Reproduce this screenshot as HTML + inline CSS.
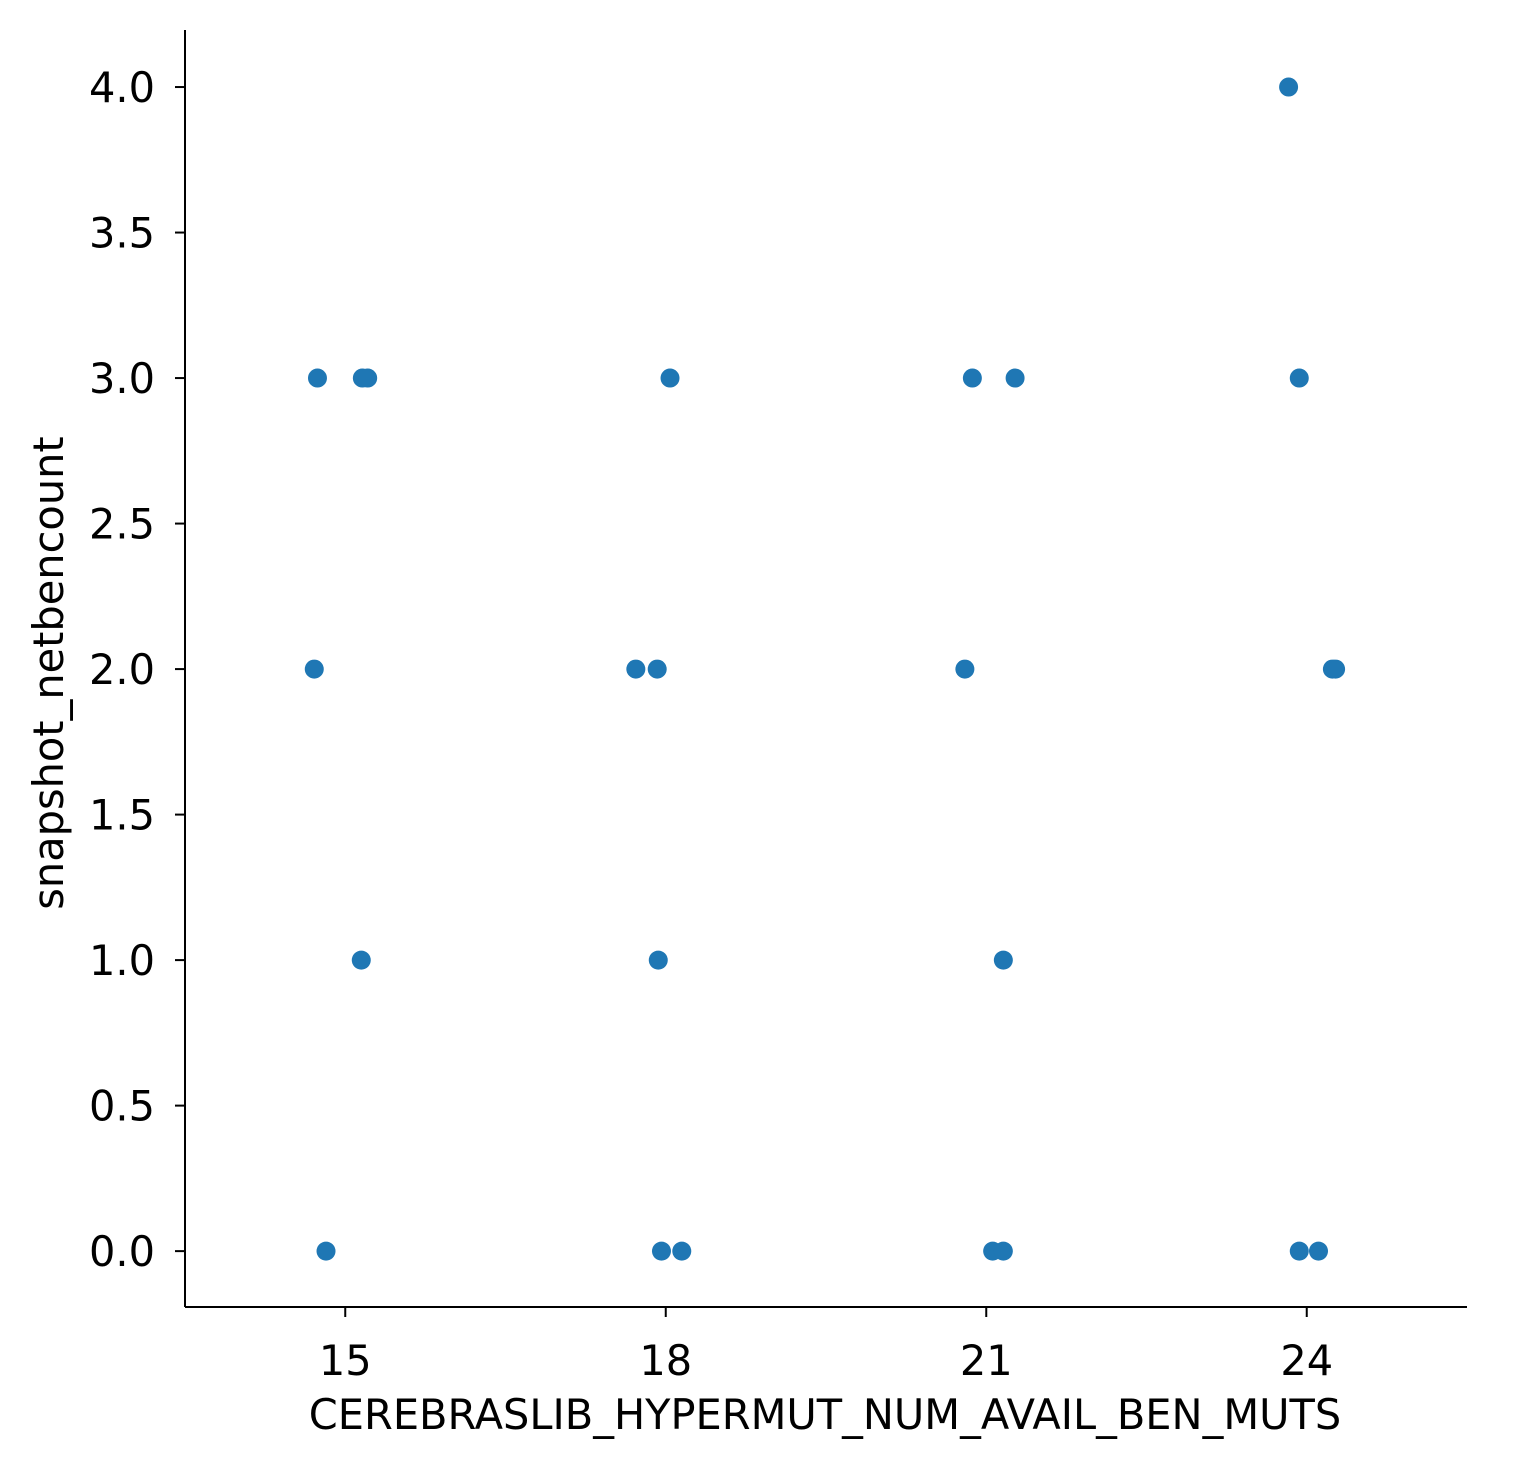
<!DOCTYPE html>
<html><head><meta charset="utf-8"><style>
body{margin:0;background:#fff;}
svg text{font-family:"DejaVu Sans","Liberation Sans",sans-serif;fill:#000;}
</style></head><body>
<svg id="chart" width="1524" height="1469" xmlns="http://www.w3.org/2000/svg">
<g id="marks"></g>
<g id="axes"></g>
</svg>
<script>
const xValues=[23.83,14.74,15.16,15.21,18.04,20.87,21.27,23.93,14.71,17.72,17.92,20.80,24.24,24.27,15.15,17.93,21.16,14.82,17.96,18.15,21.06,21.16,23.93,24.11];
const yValues=[4,3,3,3,3,3,3,3,2,2,2,2,2,2,1,1,1,0,0,0,0,0,0,0];
const xTicks=[15,18,21,24];
const yTicks=[0,0.5,1,1.5,2,2.5,3,3.5,4];
const yTickLabels=["0.0","0.5","1.0","1.5","2.0","2.5","3.0","3.5","4.0"];
const L=185,R=1467,T=30,B=1307;
const xMin=13.5,xMax=25.5,yMin=-0.192,yMax=4.196;
const FS=41.5;
function sx(v){return L+(v-xMin)/(xMax-xMin)*(R-L);}
function sy(v){return B-(v-yMin)/(yMax-yMin)*(B-T);}
const NS="http://www.w3.org/2000/svg";
const marks=document.getElementById('marks'),axes=document.getElementById('axes');
function mk(tag,attrs,parent,txt){const e=document.createElementNS(NS,tag);for(const k in attrs)e.setAttribute(k,attrs[k]);if(txt!==undefined)e.textContent=txt;parent.appendChild(e);return e;}
xValues.forEach((x,i)=>{
  const c=mk('circle',{cx:sx(x),cy:sy(yValues[i]),r:9.5,fill:'#1f77b4'},marks);
  
  
});
const ys=mk('line',{x1:L,y1:T,x2:L,y2:B,stroke:'#000','stroke-width':2},axes);


const xs=mk('line',{x1:L,y1:B,x2:R,y2:B,stroke:'#000','stroke-width':2},axes);


xTicks.forEach(t=>{
  const x=sx(t);
  const tk=mk('line',{x1:x,y1:B,x2:x,y2:B+10,stroke:'#000','stroke-width':2},axes);
  
  
  const lb=mk('text',{x:x,y:B+68,'font-size':FS,'text-anchor':'middle'},axes,String(t));
  
  
});
yTicks.forEach((t,i)=>{
  const y=sy(t);
  const tk=mk('line',{x1:L-10,y1:y,x2:L,y2:y,stroke:'#000','stroke-width':2},axes);
  
  
  const lb=mk('text',{x:L-30,y:y+15,'font-size':FS,'text-anchor':'end'},axes,yTickLabels[i]);
  
  
});
const xt=mk('text',{x:825,y:1429,'font-size':FS,'text-anchor':'middle'},axes,'CEREBRASLIB_HYPERMUT_NUM_AVAIL_BEN_MUTS');


const yt=mk('text',{x:0,y:0,'font-size':FS,'text-anchor':'middle',transform:'translate(63,673) rotate(-90)'},axes,'snapshot_netbencount');


</script>
</body></html>
